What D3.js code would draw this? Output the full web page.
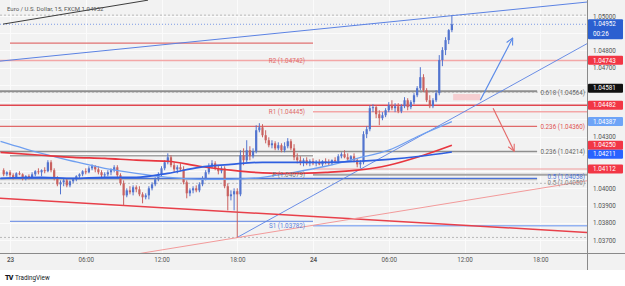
<!DOCTYPE html>
<html>
<head>
<meta charset="utf-8">
<script src="https://cdn.jsdelivr.net/npm/d3@7"></script>
<style>
  body { margin: 0; background: #fff; }
  svg { display: block; font-family: Roboto, "Liberation Sans", sans-serif; }
</style>
</head>
<body>
<div id="chart"></div>
<script>
/* ---- data ---- */
var symbolTitle = "Euro / U.S. Dollar, 15, FXCM";
var lastPrice = 1.04952, barCountdown = "00:26";
var firstBar = "2024-12-22T23:30", barMinutes = 15;

// open, high, low, close per 15 min bar
var ohlc = [
[1.04105,1.04116,1.04070,1.04081],[1.04081,1.04099,1.04070,1.04093],[1.04093,1.04105,1.04064,1.04076],[1.04076,1.04087,1.04052,1.04064],
[1.04064,1.04093,1.04058,1.04087],[1.04087,1.04099,1.04076,1.04081],[1.04081,1.04087,1.04046,1.04058],[1.04058,1.04076,1.04046,1.04070],
[1.04070,1.04081,1.04052,1.04064],[1.04064,1.04093,1.04058,1.04081],[1.04081,1.04105,1.04070,1.04099],[1.04099,1.04116,1.04081,1.04093],
[1.04093,1.04110,1.04070,1.04105],[1.04105,1.04122,1.04087,1.04099],[1.04099,1.04163,1.04093,1.04151],[1.04151,1.04163,1.04093,1.04105],
[1.04105,1.04116,1.04046,1.04058],[1.04058,1.04070,1.04012,1.04023],[1.04023,1.04046,1.03965,1.04035],[1.04035,1.04058,1.04012,1.04046],
[1.04046,1.04058,1.04006,1.04017],[1.04017,1.04046,1.04006,1.04041],[1.04041,1.04058,1.04029,1.04052],[1.04052,1.04076,1.04041,1.04070],
[1.04070,1.04087,1.04058,1.04081],[1.04081,1.04105,1.04070,1.04099],[1.04099,1.04116,1.04081,1.04093],[1.04093,1.04128,1.04087,1.04116],
[1.04116,1.04139,1.04105,1.04128],[1.04128,1.04134,1.04093,1.04110],[1.04110,1.04128,1.04081,1.04093],[1.04093,1.04105,1.04064,1.04076],
[1.04076,1.04093,1.04058,1.04081],[1.04081,1.04105,1.04070,1.04093],[1.04093,1.04116,1.04076,1.04105],[1.04105,1.04134,1.04093,1.04122],
[1.04122,1.04134,1.04064,1.04076],[1.04076,1.04087,1.04017,1.04029],[1.04029,1.04046,1.03901,1.03959],[1.03959,1.04000,1.03948,1.03988],
[1.03988,1.04012,1.03965,1.03977],[1.03977,1.04017,1.03959,1.04006],[1.04006,1.04017,1.03977,1.03994],[1.03994,1.04012,1.03954,1.03965],
[1.03965,1.03977,1.03913,1.03948],[1.03948,1.03971,1.03936,1.03959],[1.03959,1.04012,1.03936,1.04000],[1.04000,1.04035,1.03988,1.04023],
[1.04023,1.04064,1.04012,1.04052],[1.04052,1.04093,1.04041,1.04081],[1.04081,1.04128,1.04070,1.04116],[1.04116,1.04163,1.04105,1.04151],
[1.04151,1.04203,1.04139,1.04180],[1.04180,1.04192,1.04122,1.04134],[1.04134,1.04151,1.04093,1.04110],[1.04110,1.04134,1.04087,1.04122],
[1.04122,1.04145,1.04099,1.04110],[1.04110,1.04128,1.04023,1.04035],[1.04035,1.04046,1.03942,1.03971],[1.03971,1.04000,1.03954,1.03988],
[1.03988,1.04012,1.03971,1.04000],[1.04000,1.04017,1.03977,1.03988],[1.03988,1.04035,1.03977,1.04023],[1.04023,1.04070,1.04012,1.04058],
[1.04058,1.04105,1.04046,1.04093],[1.04093,1.04145,1.04081,1.04128],[1.04128,1.04163,1.04116,1.04145],[1.04145,1.04157,1.04105,1.04116],
[1.04116,1.04134,1.04081,1.04099],[1.04099,1.04128,1.04087,1.04116],[1.04116,1.04128,1.04000,1.04012],[1.04012,1.04029,1.03872,1.03954],
[1.03954,1.03988,1.03930,1.03965],[1.03965,1.04000,1.03872,1.03983],[1.03983,1.04000,1.03715,1.03965],[1.03965,1.04221,1.03954,1.04192],
[1.04192,1.04232,1.04134,1.04163],[1.04163,1.04279,1.04151,1.04221],[1.04221,1.04244,1.04163,1.04186],[1.04186,1.04232,1.04174,1.04215],
[1.04215,1.04366,1.04203,1.04337],[1.04337,1.04378,1.04325,1.04354],[1.04354,1.04372,1.04296,1.04308],[1.04308,1.04337,1.04261,1.04279],
[1.04279,1.04296,1.04238,1.04250],[1.04250,1.04279,1.04232,1.04261],[1.04261,1.04273,1.04221,1.04232],[1.04232,1.04267,1.04221,1.04250],
[1.04250,1.04261,1.04209,1.04221],[1.04221,1.04267,1.04209,1.04244],[1.04244,1.04291,1.04232,1.04273],[1.04273,1.04285,1.04221,1.04232],
[1.04232,1.04256,1.04163,1.04180],[1.04180,1.04203,1.04145,1.04163],[1.04163,1.04186,1.04134,1.04151],[1.04151,1.04174,1.04128,1.04163],
[1.04163,1.04180,1.04134,1.04145],[1.04145,1.04168,1.04128,1.04157],[1.04157,1.04174,1.04134,1.04145],[1.04145,1.04163,1.04128,1.04151],
[1.04151,1.04168,1.04134,1.04139],[1.04139,1.04163,1.04128,1.04157],[1.04157,1.04174,1.04139,1.04151],[1.04151,1.04168,1.04134,1.04145],
[1.04145,1.04168,1.04134,1.04163],[1.04163,1.04180,1.04145,1.04157],[1.04157,1.04198,1.04145,1.04186],[1.04186,1.04209,1.04174,1.04198],
[1.04198,1.04221,1.04174,1.04180],[1.04180,1.04203,1.04157,1.04168],[1.04168,1.04192,1.04157,1.04186],[1.04186,1.04203,1.04151,1.04163],
[1.04163,1.04174,1.04122,1.04139],[1.04139,1.04163,1.04116,1.04151],[1.04151,1.04331,1.04139,1.04314],[1.04314,1.04360,1.04291,1.04343],
[1.04343,1.04482,1.04331,1.04465],[1.04465,1.04488,1.04442,1.04471],[1.04471,1.04482,1.04407,1.04430],[1.04430,1.04453,1.04366,1.04407],
[1.04407,1.04442,1.04395,1.04424],[1.04424,1.04465,1.04413,1.04453],[1.04453,1.04500,1.04442,1.04482],[1.04482,1.04511,1.04453,1.04465],
[1.04465,1.04494,1.04442,1.04476],[1.04476,1.04494,1.04436,1.04447],[1.04447,1.04488,1.04436,1.04476],[1.04476,1.04529,1.04465,1.04511],
[1.04511,1.04523,1.04453,1.04471],[1.04471,1.04511,1.04459,1.04500],[1.04500,1.04552,1.04488,1.04540],[1.04540,1.04593,1.04529,1.04581],
[1.04581,1.04703,1.04569,1.04645],[1.04645,1.04662,1.04558,1.04569],[1.04569,1.04581,1.04500,1.04511],[1.04511,1.04540,1.04465,1.04476],
[1.04476,1.04523,1.04465,1.04511],[1.04511,1.04569,1.04500,1.04552],[1.04552,1.04773,1.04540,1.04744],[1.04744,1.04819,1.04709,1.04802],
[1.04802,1.04877,1.04773,1.04860],[1.04860,1.04924,1.04837,1.04918],[1.04918,1.05005,1.04906,1.04952]
];

// moving averages, sampled along the curve
var maTimes = ["2024-12-22T23:15","2024-12-23T02:30","2024-12-23T05:00","2024-12-23T07:30","2024-12-23T10:00",
  "2024-12-23T12:30","2024-12-23T15:00","2024-12-23T17:30","2024-12-23T20:00","2024-12-23T22:30",
  "2024-12-24T01:00","2024-12-24T03:30","2024-12-24T06:00","2024-12-24T08:30","2024-12-24T11:00"];
var maRed   = [1.04209,1.04192,1.04180,1.04174,1.04163,1.04157,1.04128,1.04105,1.04090,1.04087,1.04093,1.04105,1.04134,1.04186,1.04250];
var maBlue  = [1.04058,1.04064,1.04058,1.04064,1.04064,1.04087,1.04122,1.04139,1.04151,1.04151,1.04151,1.04157,1.04168,1.04186,1.04211];
var maLight = [1.04273,1.04203,1.04157,1.04116,1.04087,1.04064,1.04052,1.04052,1.04064,1.04093,1.04128,1.04174,1.04221,1.04308,1.04387];

// pivots
var pivotNames = ["R2","R1","P","S1"];
var pivotValues = [1.04742,1.04445,1.04079,1.03782];
var prevDayLevels = [1.04842,1.04189,1.03808];
// fibonacci levels
var fibNames = ["0.618","0.236","0.236","0.5","0.5"];
var fibValues = [1.04564,1.04360,1.04214,1.04058,1.04050];
var redLevels = [1.04482,1.04112];
var dashedLevels = [1.05005,1.04558,1.04029,1.03715];
// price tags on the right scale
var axisTags = [1.04743,1.04581,1.04482,1.04387,1.04250,1.04211,1.04112];

// drawn lines: [time, price] end points
var trendLines = [
  [["2024-12-22T23:27",1.04953],["2024-12-23T10:56",1.05092]],
  [["2024-12-22T23:12",1.04738],["2024-12-24T21:43",1.05081]],
  [["2024-12-23T18:00",1.03715],["2024-12-24T21:43",1.04840]],
  [["2024-12-22T23:12",1.03942],["2024-12-24T21:43",1.03744]],
  [["2024-12-23T10:18",1.03622],["2024-12-24T21:43",1.04044]]
];
var arrowUp   = [["2024-12-24T13:15",1.04511],["2024-12-24T15:49",1.04872]];
var arrowDown = [["2024-12-24T14:16",1.04465],["2024-12-24T15:56",1.04215]];
var zoneTimes = ["2024-12-24T11:06","2024-12-24T13:15"], zonePrices = [1.04547,1.04511];

/* ---- layout ---- */
var W = 625, H = 286, plotR = 587, plotB = 253;
var parse = d3.utcParse("%Y-%m-%dT%H:%M");
var svg = d3.select("#chart").append("svg").attr("width", W).attr("height", H);

var x = d3.scaleUtc()
  .domain([parse("2024-12-23T00:00"), parse("2024-12-24T00:00")])
  .range([10, 313]);
var y = d3.scaleLinear().domain([1.037, 1.05]).range([240, 16]);
var dayStart = x(parse("2024-12-24T00:00")), dayPrev = x(parse("2024-12-23T00:00"));
var fibEnd = x(parse("2024-12-24T17:45"));

svg.append("rect").attr("width", W).attr("height", 270).attr("fill", "#f2f2f2");

var defs = svg.append("defs");
defs.append("clipPath").attr("id", "plotclip")
  .append("rect").attr("width", plotR).attr("height", plotB);
function marker(id, col){
  defs.append("marker").attr("id", id).attr("viewBox", "0 0 10 10")
    .attr("refX", 9).attr("refY", 5).attr("markerWidth", 7).attr("markerHeight", 7)
    .attr("orient", "auto")
    .append("path").attr("d", "M1,1L9,5L1,9").attr("fill", "none")
    .attr("stroke", col).attr("stroke-width", 1.3);
}
marker("arUp", "#5a8ae8");
marker("arDn", "#e46a6a");

var plot = svg.append("g").attr("clip-path", "url(#plotclip)");

// grid
var yTicks = d3.range(37, 51).map(function(v){ return 1 + v / 1000; });
var xTicks = d3.utcHour.every(6).range(parse("2024-12-22T18:00"), parse("2024-12-25T00:00"))
  .filter(function(t){ return x(t) >= 0 && x(t) < plotR; });
plot.append("g").selectAll("line").data(yTicks).enter().append("line")
  .attr("x1", 0).attr("x2", plotR)
  .attr("y1", function(d){ return Math.round(y(d)) + 0.5; })
  .attr("y2", function(d){ return Math.round(y(d)) + 0.5; })
  .attr("stroke", "#fbfbfb").attr("stroke-width", 1);
plot.append("g").selectAll("line").data(xTicks).enter().append("line")
  .attr("y1", 0).attr("y2", plotB)
  .attr("x1", function(d){ return Math.round(x(d)) + 0.5; })
  .attr("x2", function(d){ return Math.round(x(d)) + 0.5; })
  .attr("stroke", "#fbfbfb").attr("stroke-width", 1);

function hline(g, price, x1, x2, col, w, dash){
  g.append("line").attr("x1", x1).attr("x2", x2)
    .attr("y1", y(price)).attr("y2", y(price))
    .attr("stroke", col).attr("stroke-width", w)
    .attr("stroke-dasharray", dash || null);
}

var lv = plot.append("g");
dashedLevels.forEach(function(p){ hline(lv, p, 0, plotR, "#b8b8b8", 1, "2,2"); });
hline(lv, lastPrice, 0, plotR, "#7f9de6", 1, "1,2");

// previous day pivots
hline(lv, prevDayLevels[0], dayPrev, dayStart, "#e07070", 1.2);
hline(lv, prevDayLevels[1], dayPrev, dayStart, "#a2a2a2", 1.6);
hline(lv, prevDayLevels[2], dayPrev, dayStart, "#7d9ae6", 1.2);

// today pivots
var pivotStyle = {
  R2: {col: "#f3a7a7", w: 1.5, x1: 0, text: "#e06a6a"},
  R1: {col: "#f3a7a7", w: 1.5, x1: dayStart, text: "#e06a6a"},
  P:  {col: "#a6a6a6", w: 2, x1: dayStart, text: "#777"},
  S1: {col: "#93b2f2", w: 1.5, x1: dayStart, text: "#5a7fdc"}
};
pivotNames.forEach(function(n, i){
  var s = pivotStyle[n];
  hline(lv, pivotValues[i], s.x1, plotR, s.col, s.w);
});

// red levels
hline(lv, redLevels[0], 0, plotR, "#e0464f", 1.4);
hline(lv, redLevels[1], dayStart, plotR, "#f09a9a", 1);

// fibonacci
var fibStyle = [
  {col: "#8e8e8e", w: 2, text: "#666", dy: 1.5},
  {col: "#e06a6a", w: 1.2, text: "#e05252", dy: 1},
  {col: "#8e8e8e", w: 1.6, text: "#666", dy: 0},
  {col: "#4a72d8", w: 1.2, text: "#4a72d8", dy: -1.8},
  {col: "#b0b0b0", w: 1, text: "#888", dy: 3.6}
];
fibValues.forEach(function(p, i){
  hline(lv, p, 0, fibEnd, fibStyle[i].col, fibStyle[i].w);
});

// zone
plot.append("rect")
  .attr("x", x(parse(zoneTimes[0]))).attr("width", x(parse(zoneTimes[1])) - x(parse(zoneTimes[0])))
  .attr("y", y(zonePrices[0])).attr("height", y(zonePrices[1]) - y(zonePrices[0]))
  .attr("fill", "#f6c4c8").attr("opacity", 0.8);

// trend lines
var trendStyle = [
  {col: "#3c3c3c", w: 1},
  {col: "#5b82e3", w: 1},
  {col: "#5b82e3", w: 0.9},
  {col: "#e8404a", w: 1.5},
  {col: "#f29a9a", w: 1}
];
var seg = d3.line()
  .x(function(d){ return x(parse(d[0])); })
  .y(function(d){ return y(d[1]); });
plot.append("g").selectAll("path").data(trendLines).enter().append("path")
  .attr("d", seg).attr("fill", "none")
  .attr("stroke", function(d, i){ return trendStyle[i].col; })
  .attr("stroke-width", function(d, i){ return trendStyle[i].w; });

// candles
var t0 = parse(firstBar);
var bars = ohlc.map(function(d, k){
  return {t: d3.utcMinute.offset(t0, barMinutes * k), o: d[0], h: d[1], l: d[2], c: d[3]};
});
var candle = plot.append("g").selectAll("g").data(bars).enter().append("g");
candle.append("line")
  .attr("x1", function(d){ return x(d.t); }).attr("x2", function(d){ return x(d.t); })
  .attr("y1", function(d){ return y(d.h); }).attr("y2", function(d){ return y(d.l); })
  .attr("stroke", function(d){ return d.c >= d.o ? "#5274cf" : "#c9615f"; })
  .attr("stroke-width", 1);
candle.append("rect")
  .attr("x", function(d){ return x(d.t) - 1.1; }).attr("width", 2.2)
  .attr("y", function(d){ return y(Math.max(d.o, d.c)); })
  .attr("height", function(d){ return Math.max(1, Math.abs(y(d.o) - y(d.c))); })
  .attr("fill", function(d){ return d.c >= d.o ? "#5274cf" : "#c9615f"; });

// moving averages
var maLine = d3.line()
  .x(function(d){ return x(parse(d[0])); })
  .y(function(d){ return y(d[1]); })
  .curve(d3.curveMonotoneX);
[[maLight, "#6f9ff0", 1.3], [maRed, "#e8363f", 1.7], [maBlue, "#2f5fe0", 1.7]].forEach(function(m){
  plot.append("path")
    .attr("d", maLine(maTimes.map(function(t, i){ return [t, m[0][i]]; })))
    .attr("fill", "none").attr("stroke", m[1]).attr("stroke-width", m[2]);
});

// arrows
plot.append("path").attr("d", seg(arrowUp)).attr("stroke", "#5a8ae8").attr("stroke-width", 1.2)
  .attr("fill", "none").attr("marker-end", "url(#arUp)");
plot.append("path").attr("d", seg(arrowDown)).attr("stroke", "#e46a6a").attr("stroke-width", 1.2)
  .attr("fill", "none").attr("marker-end", "url(#arDn)");

// level labels
var fs = 6.3;
pivotNames.forEach(function(n, i){
  svg.append("text").attr("x", dayStart - 8).attr("y", y(pivotValues[i]))
    .attr("dy", "0.35em").attr("text-anchor", "end").attr("font-size", fs)
    .attr("fill", pivotStyle[n].text)
    .text(n + " (" + pivotValues[i].toFixed(5) + ")");
});
fibNames.forEach(function(n, i){
  svg.append("text").attr("x", plotR - 2).attr("y", y(fibValues[i]) + fibStyle[i].dy)
    .attr("dy", "0.35em").attr("text-anchor", "end").attr("font-size", fs)
    .attr("fill", fibStyle[i].text)
    .text(n + " (" + fibValues[i].toFixed(5) + ")");
});

// axes
svg.append("line").attr("x1", 0).attr("x2", W).attr("y1", plotB + 0.5).attr("y2", plotB + 0.5)
  .attr("stroke", "#8a8a8a");
svg.append("line").attr("x1", plotR + 0.5).attr("x2", plotR + 0.5).attr("y1", 0).attr("y2", 270)
  .attr("stroke", "#8a8a8a");

var fmtX = function(t){
  return t.getUTCHours() === 0 ? d3.utcFormat("%-d")(t) : d3.utcFormat("%H:%M")(t);
};
var xAxis = svg.append("g").attr("transform", "translate(0," + plotB + ")")
  .call(d3.axisBottom(x).tickValues(xTicks).tickFormat(fmtX).tickSize(0).tickPadding(5));
xAxis.select(".domain").remove();
xAxis.selectAll("text").attr("font-size", fs).attr("fill", "#555")
  .attr("font-family", "Roboto, 'Liberation Sans', sans-serif")
  .attr("font-weight", function(t){ return t.getUTCHours() === 0 ? 600 : null; });

// tag positions, pushed apart where they would collide
var tagH = 9;
var tagPos = [];
axisTags.forEach(function(p, i){ tagPos.push({p: p, i: i, cy: y(p)}); });
tagPos.sort(function(a, b){ return a.cy - b.cy; });
for (var k = 1; k < tagPos.length; k++) {
  if (tagPos[k].cy - tagPos[k - 1].cy < tagH) tagPos[k].cy = tagPos[k - 1].cy + tagH;
}
var lastTop = y(lastPrice) - 5, lastBottom = y(lastPrice) + 15;

// price scale labels that a tag would cover are left out
var shownTicks = yTicks.filter(function(v){
  var ty = y(v);
  if (ty > lastTop - 1 && ty < lastBottom + 1) return false;
  return !tagPos.some(function(t){ return Math.abs(t.cy - ty) < 5; });
});
var yAxis = svg.append("g").attr("transform", "translate(" + plotR + ",0)")
  .call(d3.axisRight(y).tickValues(shownTicks).tickFormat(d3.format(".5f")).tickSize(0).tickPadding(6));
yAxis.select(".domain").remove();
yAxis.selectAll("text").attr("font-size", fs).attr("fill", "#555")
  .attr("font-family", "Roboto, 'Liberation Sans', sans-serif");

// right-scale tags
var tagColor = ["#f23645", "#111111", "#f23645", "#6ea4f7", "#f23645", "#2962ff", "#f23645"];
tagPos.forEach(function(t){
  var g = svg.append("g").attr("transform", "translate(" + (plotR + 1) + "," + t.cy + ")");
  g.append("rect").attr("x", 0).attr("y", -tagH / 2).attr("width", 35).attr("height", tagH)
    .attr("rx", 1).attr("fill", tagColor[t.i]);
  g.append("text").attr("x", 5).attr("dy", "0.35em").attr("font-size", fs)
    .attr("fill", "#fff").text(t.p.toFixed(5));
});
var lastTag = svg.append("g").attr("transform", "translate(" + (plotR + 1) + "," + y(lastPrice) + ")");
lastTag.append("rect").attr("x", 0).attr("y", -5).attr("width", 35).attr("height", 20)
  .attr("rx", 1).attr("fill", "#2b5fd0");
lastTag.append("text").attr("x", 5).attr("dy", "0.35em").attr("font-size", fs)
  .attr("fill", "#fff").text(lastPrice.toFixed(5));
lastTag.append("text").attr("x", 5).attr("y", 10).attr("dy", "0.35em").attr("font-size", fs)
  .attr("fill", "#fff").text(barCountdown);

// title
svg.append("text").attr("x", 7).attr("y", 10.5).attr("font-size", 6)
  .attr("fill", "#555").text(symbolTitle + "  " + lastPrice.toFixed(5));

// footer logo
svg.append("text").attr("x", 5).attr("y", 280).attr("font-size", 7).attr("font-weight", 900)
  .attr("fill", "#131722").attr("letter-spacing", -0.8).text("TV");
svg.append("text").attr("x", 15).attr("y", 280).attr("font-size", 6.3)
  .attr("fill", "#131722").text("TradingView");
</script>
</body>
</html>
